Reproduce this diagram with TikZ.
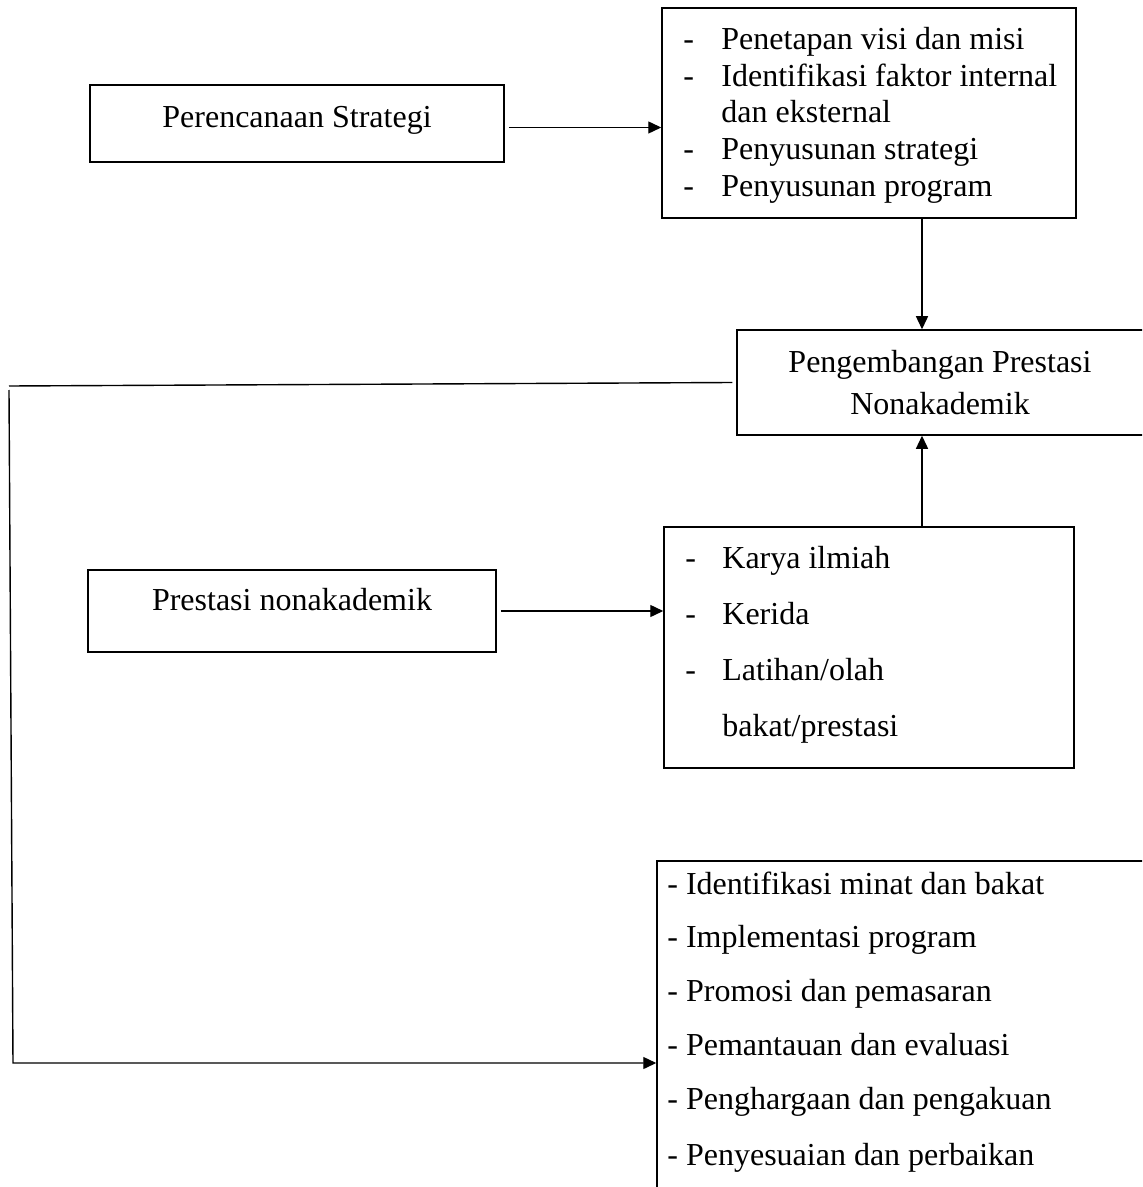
\documentclass[tikz,border=0pt]{standalone}
\usepackage{fontspec}
\setmainfont{Liberation Serif}
\usetikzlibrary{arrows.meta}
\begin{document}
\begin{tikzpicture}[x=0.5pt,y=-0.5pt,
  box/.style={draw, line width=0.75pt, rectangle, inner sep=0pt},
  txt/.style={inner sep=0pt, font=\fontsize{16}{19}\selectfont},
  arr/.style={line width=0.7pt, -{Triangle[length=6.5pt,width=6pt]}},
  ln/.style={line width=0.7pt}]
\useasboundingbox (0,0) rectangle (1142,1187);
\clip (0,0) rectangle (1142,1187);
\fill[white] (0,0) rectangle (1142,1187);
% boxes
\node[box, minimum width=207pt, minimum height=38.5pt] (A) at (297,123.5) {};
\node[box, minimum width=207pt, minimum height=105pt] (B) at (869,113) {};
\node[box, minimum width=206.5pt, minimum height=52.5pt] (C) at (943.5,382.5) {};
\node[box, minimum width=204pt, minimum height=41pt] (D) at (292,611) {};
\node[box, minimum width=205pt, minimum height=120.5pt] (E) at (869,647.5) {};
\node[box, minimum width=246.5pt, minimum height=169.5pt] (F) at (903.5,1030.5) {};
% texts
\node[txt, anchor=base] (tA) at (297,128) {Perencanaan Strategi};
\node[txt, anchor=base west] (b1d) at (683,50) {-};
\node[txt, anchor=base west] (b1) at (721,50) {Penetapan visi dan misi};
\node[txt, anchor=base west] (b2d) at (683,87) {-};
\node[txt, anchor=base west] (b2) at (721,87) {Identifikasi faktor internal};
\node[txt, anchor=base west] (b3) at (721,123) {dan eksternal};
\node[txt, anchor=base west] (b4d) at (683,160) {-};
\node[txt, anchor=base west] (b4) at (721,160) {Penyusunan strategi};
\node[txt, anchor=base west] (b5d) at (683,197) {-};
\node[txt, anchor=base west] (b5) at (721,197) {Penyusunan program};
\node[txt, anchor=base] (c1) at (940,372) {Pengembangan Prestasi};
\node[txt, anchor=base] (c2) at (940,414) {Nonakademik};
\node[txt, anchor=base] (tD) at (292,610) {Prestasi nonakademik};
\node[txt, anchor=base west] (e1d) at (685,568) {-};
\node[txt, anchor=base west] (e1) at (722,568) {Karya ilmiah};
\node[txt, anchor=base west] (e2d) at (685,624) {-};
\node[txt, anchor=base west] (e2) at (722,624) {Kerida};
\node[txt, anchor=base west] (e3d) at (685,680) {-};
\node[txt, anchor=base west] (e3) at (722,680) {Latihan/olah};
\node[txt, anchor=base west] (e4) at (722,736) {bakat/prestasi};
\node[txt, anchor=base west] (f1) at (667,894) {- Identifikasi minat dan bakat};
\node[txt, anchor=base west] (f2) at (667,947) {- Implementasi program};
\node[txt, anchor=base west] (f3) at (667,1001) {- Promosi dan pemasaran};
\node[txt, anchor=base west] (f4) at (667,1055) {- Pemantauan dan evaluasi};
\node[txt, anchor=base west] (f5) at (667,1109) {- Penghargaan dan pengakuan};
\node[txt, anchor=base west] (f6) at (667,1165) {- Penyesuaian dan perbaikan};
% connectors
\draw[arr] ([xshift=2pt,yshift=-2pt]A.east) -- ([yshift=-2pt]A.east -| B.west);
\draw[arr] ([xshift=26.5pt]B.south) -- ([xshift=26.5pt]B.south |- C.north);
\draw[arr] ([xshift=26.5pt]E.north) -- ([xshift=26.5pt]E.north |- C.south);
\draw[arr] ([xshift=2pt]D.east) -- (D.east -| E.west);
\coordinate (k1) at (9,386);
\coordinate (k2) at (13,1063);
\draw[ln] ([xshift=-2pt]C.west) -- (k1);
\draw[arr] ([yshift=-2pt]k1) -- (k2) -- (k2 -| F.west);
\end{tikzpicture}
\end{document}
